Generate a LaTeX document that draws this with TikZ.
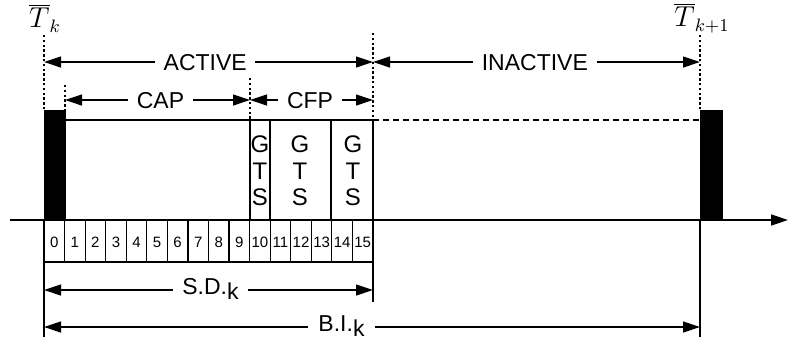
\documentclass[tikz,border=0pt]{standalone}
\usepackage{fontspec}
\setmainfont{Liberation Sans}
\usetikzlibrary{arrows.meta}
\tikzset{dim/.style = {<->, >={Triangle[length=8.5pt,width=5.5pt]}, line width=0.6pt},
         dotline/.style = {dash pattern=on 1.2pt off 1.2pt, line width=0.7pt},
         beacon/.style = {fill=black, draw=black, line width=0.5pt},
         dimtext/.style = {fill=white, inner sep=0pt, text depth=0pt},
         slot/.style = {font=\fontsize{7.5}{8}\selectfont, inner sep=0pt},
         gts/.style = {align=center, inner sep=0pt, font=\fontsize{12}{13.2}\selectfont}}

\begin{document}
\begin{tikzpicture}[x=0.5pt, y=-0.5pt, line width=0.6pt, font=\fontsize{11.5}{13}\selectfont]
      \useasboundingbox (0,0) rectangle (788,339);
      % time marks
      \coordinate (bk) at (44,220);
      \coordinate (cap) at (65,220);
      \coordinate (cfp) at (250,220);
      \coordinate (g2) at (270,220);
      \coordinate (g3) at (331,220);
      \coordinate (sd) at (373,220);
      \coordinate (bn) at (700,220);
      % rows
      \coordinate (top) at (0,35);
      \coordinate (act) at (0,62);
      \coordinate (sub) at (0,100);
      \coordinate (bt) at (0,110);
      \coordinate (fr) at (0,120);
      \coordinate (sl) at (0,262);
      \coordinate (sdr) at (0,290);
      \coordinate (bir) at (0,327);
      % axis
      \draw [->, >={Triangle[length=8.5pt,width=5.5pt]}, line width=0.8pt] (10,220) -- (788,220);
      % beacons
      \draw [beacon] (bk |- bt) rectangle (cap);
      \draw [beacon] (bn |- bt) rectangle (722,220);
      % superframe
      \draw (cap |- fr) -- (sd |- fr);
      \draw [dash pattern=on 3pt off 2pt] (sd |- fr) -- (bn |- fr);
      \draw (cfp |- fr) -- (cfp);
      \draw (g2 |- fr) -- (g2);
      \draw (g3 |- fr) -- (g3);
      \draw (sd |- fr) -- (sd);
      \node [gts] (gts1) at (260,171) {G\\T\\S};
      \node [gts] (gts2) at (300,171) {G\\T\\S};
      \node [gts] (gts3) at (353,171) {G\\T\\S};
      % slots
      \foreach \i in {0,...,15} {
        \draw ({44+20.5625*\i},220) -- ({44+20.5625*\i},262);
        \node [slot] (n\i) at ({44+20.5625*(\i+0.5)},242) {\i};
      }
      \draw (bk |- sl) -- (sd |- sl);
      \draw (bk) -- (44,337);
      \draw (sd) -- (373,302);
      \draw (bn) -- (700,337);
      % dotted marks
      \draw [dotline] (bk |- top) -- (bk |- bt);
      \draw [dotline] (65,85) -- (cap |- bt);
      \draw [dotline] (250,78) -- (cfp |- fr);
      \draw [dotline] (373,33) -- (sd |- fr);
      \draw [dotline] (bn |- top) -- (bn |- bt);
      \node (tk) at (45,18) {\fontsize{13.5}{15}\selectfont$\overline{T}_k$};
      \node (tk1) at (702,18) {\fontsize{13.5}{15}\selectfont$\overline{T}_{k+1}$};
      % periods
      \draw [dim] (bk |- act) -- node [dimtext, minimum width=50pt, pos=0.49] {ACTIVE} (sd |- act);
      \draw [dim] (sd |- act) -- node [dimtext, minimum width=62pt, pos=0.495] {INACTIVE} (bn |- act);
      \draw [dim] (cap |- sub) -- node [dimtext, minimum width=32.5pt, pos=0.516] {CAP} (cfp |- sub);
      \draw [dim] (cfp |- sub) -- node [dimtext, minimum width=32pt, pos=0.488] {CFP} (sd |- sub);
      \draw [dim] (bk |- sdr) -- node [dimtext, minimum width=37.5pt, pos=0.506, yshift=2pt] {S.D.\raisebox{-2.8pt}{k}} (sd |- sdr);
      \draw [dim] (bk |- bir) -- node [dimtext, minimum width=33.5pt, pos=0.4535, yshift=1.5pt] {B.I.\raisebox{-2.5pt}{k}} (bn |- bir);
    \end{tikzpicture}
\end{document}
